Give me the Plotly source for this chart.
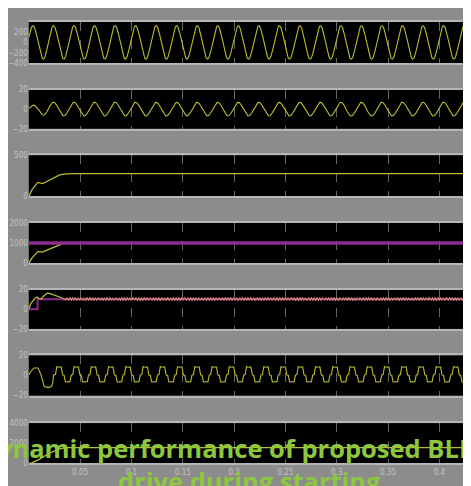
import numpy as np
import plotly.graph_objects as go

# ---------------- data ----------------
# the page adds an 8 px body margin, so the figure is 8 px smaller than the window
W, H = 463, 478
X0_PX = 15            # figure pixel of t = 0
PX_PER_S = 1040       # 0.05 s per 52 px
T_MAX = (W - X0_PX) / PX_PER_S

x_ticks = [0.05, 0.1, 0.15, 0.2, 0.25, 0.3, 0.35, 0.4]

y_ranges = [[-400, 400], [-20, 20], [0, 500], [0, 2000], [-20, 20], [-20, 20], [0, 4000]]
y_ticks = [[-400, -200, 0, 200], [-20, 0, 20], [0, 500], [0, 1000, 2000],
           [-20, 0, 20], [-20, 0, 20], [0, 2000, 4000]]

# panel 1: supply voltage (sinusoid)
vs_peak = 325.0
f_supply = 50.0
vs_peak_time = 0.004
# panel 2: supply current (sinusoid, amplitude envelope)
is_env_t = [0.0, 0.01, 0.02, 0.5]
is_env_a = [3.0, 5.5, 7.0, 7.0]
# panel 3: DC link voltage
vdc_t = [0.0, 0.003, 0.0087, 0.011, 0.0135, 0.018, 0.025, 0.030, 0.036, 0.045, 0.5]
vdc_v = [0, 80, 170, 160, 155, 185, 235, 262, 274, 276, 276]
# panel 4: speed reference and speed
nref_t = [0.0, 0.5]
nref_v = [1000, 1000]
n_t = [0.0, 0.003, 0.009, 0.011, 0.013, 0.020, 0.026, 0.032, 0.036, 0.5]
n_v = [0, 250, 585, 570, 550, 700, 840, 950, 995, 1000]
# panel 5: load torque and electromagnetic torque
tl_t = [0.0, 0.0085, 0.0086, 0.5]
tl_v = [0, 0, 10.2, 10.2]
te_start_t = [0.0, 0.002, 0.006, 0.008, 0.010, 0.012, 0.015, 0.018, 0.021, 0.025, 0.030, 0.035]
te_start_v = [0, 6, 11, 12.5, 11, 10.5, 14, 16.5, 16, 14.5, 12, 10.5]
te_mean = 10.5
te_ripple_amp = [1.0, 0.5]
te_ripple_freq = [357.0, 1130.0]
# panel 6: phase current (quasi-square), start-up points + one-period template
ia_start_t = [0.0, 0.002, 0.005, 0.009, 0.012, 0.015, 0.019, 0.022, 0.0235]
ia_start_v = [0.5, 4, 7.5, 7.5, 0.5, -11, -12, -11, -6.5]
ia_period = 0.0168
ia_peak_time = 0.0292
ia_tpl_deg = [0, 30, 55, 67, 113, 125, 235, 247, 293, 305, 330, 360]
ia_tpl_val = [7.8, 9.0, 8.5, 0.5, 0.5, -6.5, -6.5, 0.5, 0.5, 8.5, 9.0, 7.8]
# panel 7
v7_t = [0.0, 0.003, 0.010, 0.020, 0.030, 0.036, 0.5]
v7_v = [0, 50, 400, 1000, 1450, 1560, 1560]

title_line1 = "Dynamic performance of proposed BLDC"
title_line2 = "drive during starting"

# ---------------- build waveforms ----------------
dt = 0.0001
t = np.arange(0.0, T_MAX + dt, dt)
vs = vs_peak * np.cos(2 * np.pi * f_supply * (t - vs_peak_time))
isup = np.interp(t, is_env_t, is_env_a) * np.cos(2 * np.pi * f_supply * (t - vs_peak_time))

t_te = t[t >= te_start_t[-1]]
te_ss = te_mean + sum(a * np.sin(2 * np.pi * f * t_te) for a, f in zip(te_ripple_amp, te_ripple_freq))

t_ia = t[t >= ia_start_t[-1]]
phase = np.mod((t_ia - ia_peak_time) / ia_period * 360.0, 360.0)
ia_ss = np.interp(phase, ia_tpl_deg, ia_tpl_val)
ia_t = np.concatenate([ia_start_t, t_ia])
ia_v = np.concatenate([ia_start_v, ia_ss])

# ---------------- figure ----------------
YEL = "#bcbc34"
MAG = "#8e2c8e"
panel_px = [(10, 52), (79, 119), (146, 188), (215, 256), (283, 323), (350, 391), (419, 460)]

fig = go.Figure()

def add(i, x, y, color, width):
    fig.add_trace(go.Scatter(x=x, y=y, mode="lines", line=dict(color=color, width=width),
                             xaxis="x" if i == 0 else f"x{i+1}",
                             yaxis="y" if i == 0 else f"y{i+1}",
                             hoverinfo="skip", showlegend=False))

add(0, t, vs, YEL, 1.1)
add(1, t, isup, YEL, 1.1)
add(2, vdc_t, vdc_v, YEL, 1.3)
add(3, n_t, n_v, YEL, 1.3)
add(3, nref_t, nref_v, MAG, 3.5)
add(4, tl_t, tl_v, MAG, 2)
add(4, te_start_t, te_start_v, YEL, 1.2)
add(4, t_te, te_ss, "rgba(226,150,120,0.9)", 1.1)
add(5, ia_t, ia_v, YEL, 1.1)
add(6, v7_t, v7_v, YEL, 1.3)

tick_font = dict(family="DejaVu Sans Condensed, Liberation Sans Narrow, DejaVu Sans", size=8,
                 color="#c4c4c4")
layout = dict(width=W, height=H, margin=dict(l=0, r=0, t=0, b=0),
              paper_bgcolor="#8c8c8c", plot_bgcolor="#000000", showlegend=False)

for i, (top, bot) in enumerate(panel_px):
    xk = "xaxis" if i == 0 else f"xaxis{i+1}"
    yk = "yaxis" if i == 0 else f"yaxis{i+1}"
    layout[xk] = dict(domain=[X0_PX / W, 1.0], range=[0, T_MAX],
                      anchor="y" if i == 0 else f"y{i+1}",
                      showgrid=True, gridcolor="rgba(185,185,185,0.55)", griddash="dash", gridwidth=1,
                      tickvals=x_ticks, showticklabels=(i == 6), tickfont=tick_font, ticks="",
                      showline=True, mirror=True, linecolor="#b6b6b6", linewidth=1.5,
                      zeroline=False, fixedrange=True)
    layout[yk] = dict(domain=[1 - bot / H, 1 - top / H], range=y_ranges[i],
                      anchor="x" if i == 0 else f"x{i+1}",
                      tickvals=y_ticks[i], tickfont=tick_font, ticks="",
                      showgrid=False, zeroline=False, showline=False, fixedrange=True)

title_font = dict(family="Open Sans", size=25.5, color="#8dc63f", weight="bold")
layout["annotations"] = [
    dict(text=title_line1, xref="paper", yref="paper", x=225 / W, y=1 - 444 / H,
         xanchor="center", yanchor="middle", showarrow=False, font=title_font),
    dict(text=title_line2, xref="paper", yref="paper", x=239 / W, y=1 - 478 / H,
         xanchor="center", yanchor="middle", showarrow=False, font=title_font),
]

fig.update_layout(**layout)
fig.write_html("out.html")
